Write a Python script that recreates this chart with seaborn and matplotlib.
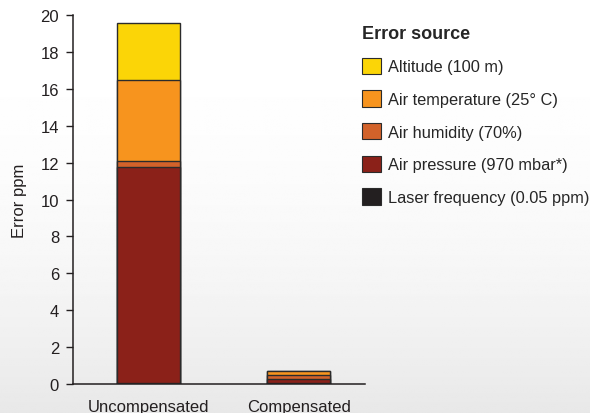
import numpy as np
import pandas as pd
import seaborn as sns
import matplotlib.pyplot as plt
from matplotlib.patches import Patch

# data (ppm)
categories = ["Uncompensated", "Compensated"]
laser = [0.05, 0.05]
pressure = [11.7, 0.2]
humidity = [0.33, 0.24]
temperature = [4.4, 0.23]
altitude = [3.1, 0.0]

sources = ["Laser frequency (0.05 ppm)", "Air pressure (970 mbar*)", "Air humidity (70%)",
           "Air temperature (25° C)", "Altitude (100 m)"]
colors = ["#231F20", "#8B2119", "#D2622A", "#F7941E", "#FBD507"]

sns.set_theme(style="white")
plt.rcParams["font.family"] = ["Liberation Sans", "DejaVu Sans"]

df = pd.DataFrame({"category": categories, "laser": laser, "pressure": pressure,
                   "humidity": humidity, "temperature": temperature, "altitude": altitude})
layers = ["laser", "pressure", "humidity", "temperature", "altitude"]
cum = df[layers].cumsum(axis=1)

fig = plt.figure(figsize=(5.9, 4.14), dpi=100)

# soft grey backdrop at the bottom
bg = fig.add_axes([0, 0, 1, 1], zorder=-10)
grad = np.linspace(0, 1, 200)[:, None] ** 2.2
bg.imshow(1 - 0.09 * grad * np.ones((1, 10)), cmap="gray", vmin=0, vmax=1,
          aspect="auto", extent=[0, 1, 0, 1], origin="upper")
bg.axis("off")

ax = fig.add_axes([0.1237, 0.070, 0.4949, 0.8914])
ax.patch.set_alpha(0)

# stacked bars: draw cumulative totals from the top layer down
for layer, color in reversed(list(zip(layers, colors))):
    sns.barplot(x=df["category"], y=cum[layer], color=color, width=0.42,
                edgecolor="#2b2b2b", linewidth=1.0, saturation=1, ax=ax)

ax.set_ylim(0, 20)
ax.set_xlim(-0.5, 1.44)
ax.set_yticks(range(0, 21, 2))
ax.set_xlabel("")
ax.set_ylabel("Error ppm", fontsize=12, color="#231F20", labelpad=10)
ax.tick_params(axis="y", left=True, length=5, width=1, color="#231F20",
               labelsize=12, labelcolor="#231F20", pad=5)
ax.tick_params(axis="x", bottom=False, labelsize=12, labelcolor="#231F20", pad=5)
sns.despine(ax=ax)
for s in ["left", "bottom"]:
    ax.spines[s].set_color("#231F20")
    ax.spines[s].set_linewidth(1.1)

handles = [Patch(facecolor=c, edgecolor="#2b2b2b", linewidth=0.8, label=l)
           for l, c in zip(sources, colors)]
handles = handles[::-1]
leg = ax.legend(handles=handles, title="Error source", loc="upper left",
                bbox_to_anchor=(0.968, 0.99), frameon=False, fontsize=11.8,
                handlelength=1.15, handleheight=1.15, labelspacing=0.98,
                handletextpad=0.45, borderaxespad=0)
leg.get_title().set_fontweight("bold")
leg.get_title().set_fontsize(13)
leg._legend_box.align = "left"
leg._legend_box.sep = 11

fig.savefig("out.png", dpi=100)
